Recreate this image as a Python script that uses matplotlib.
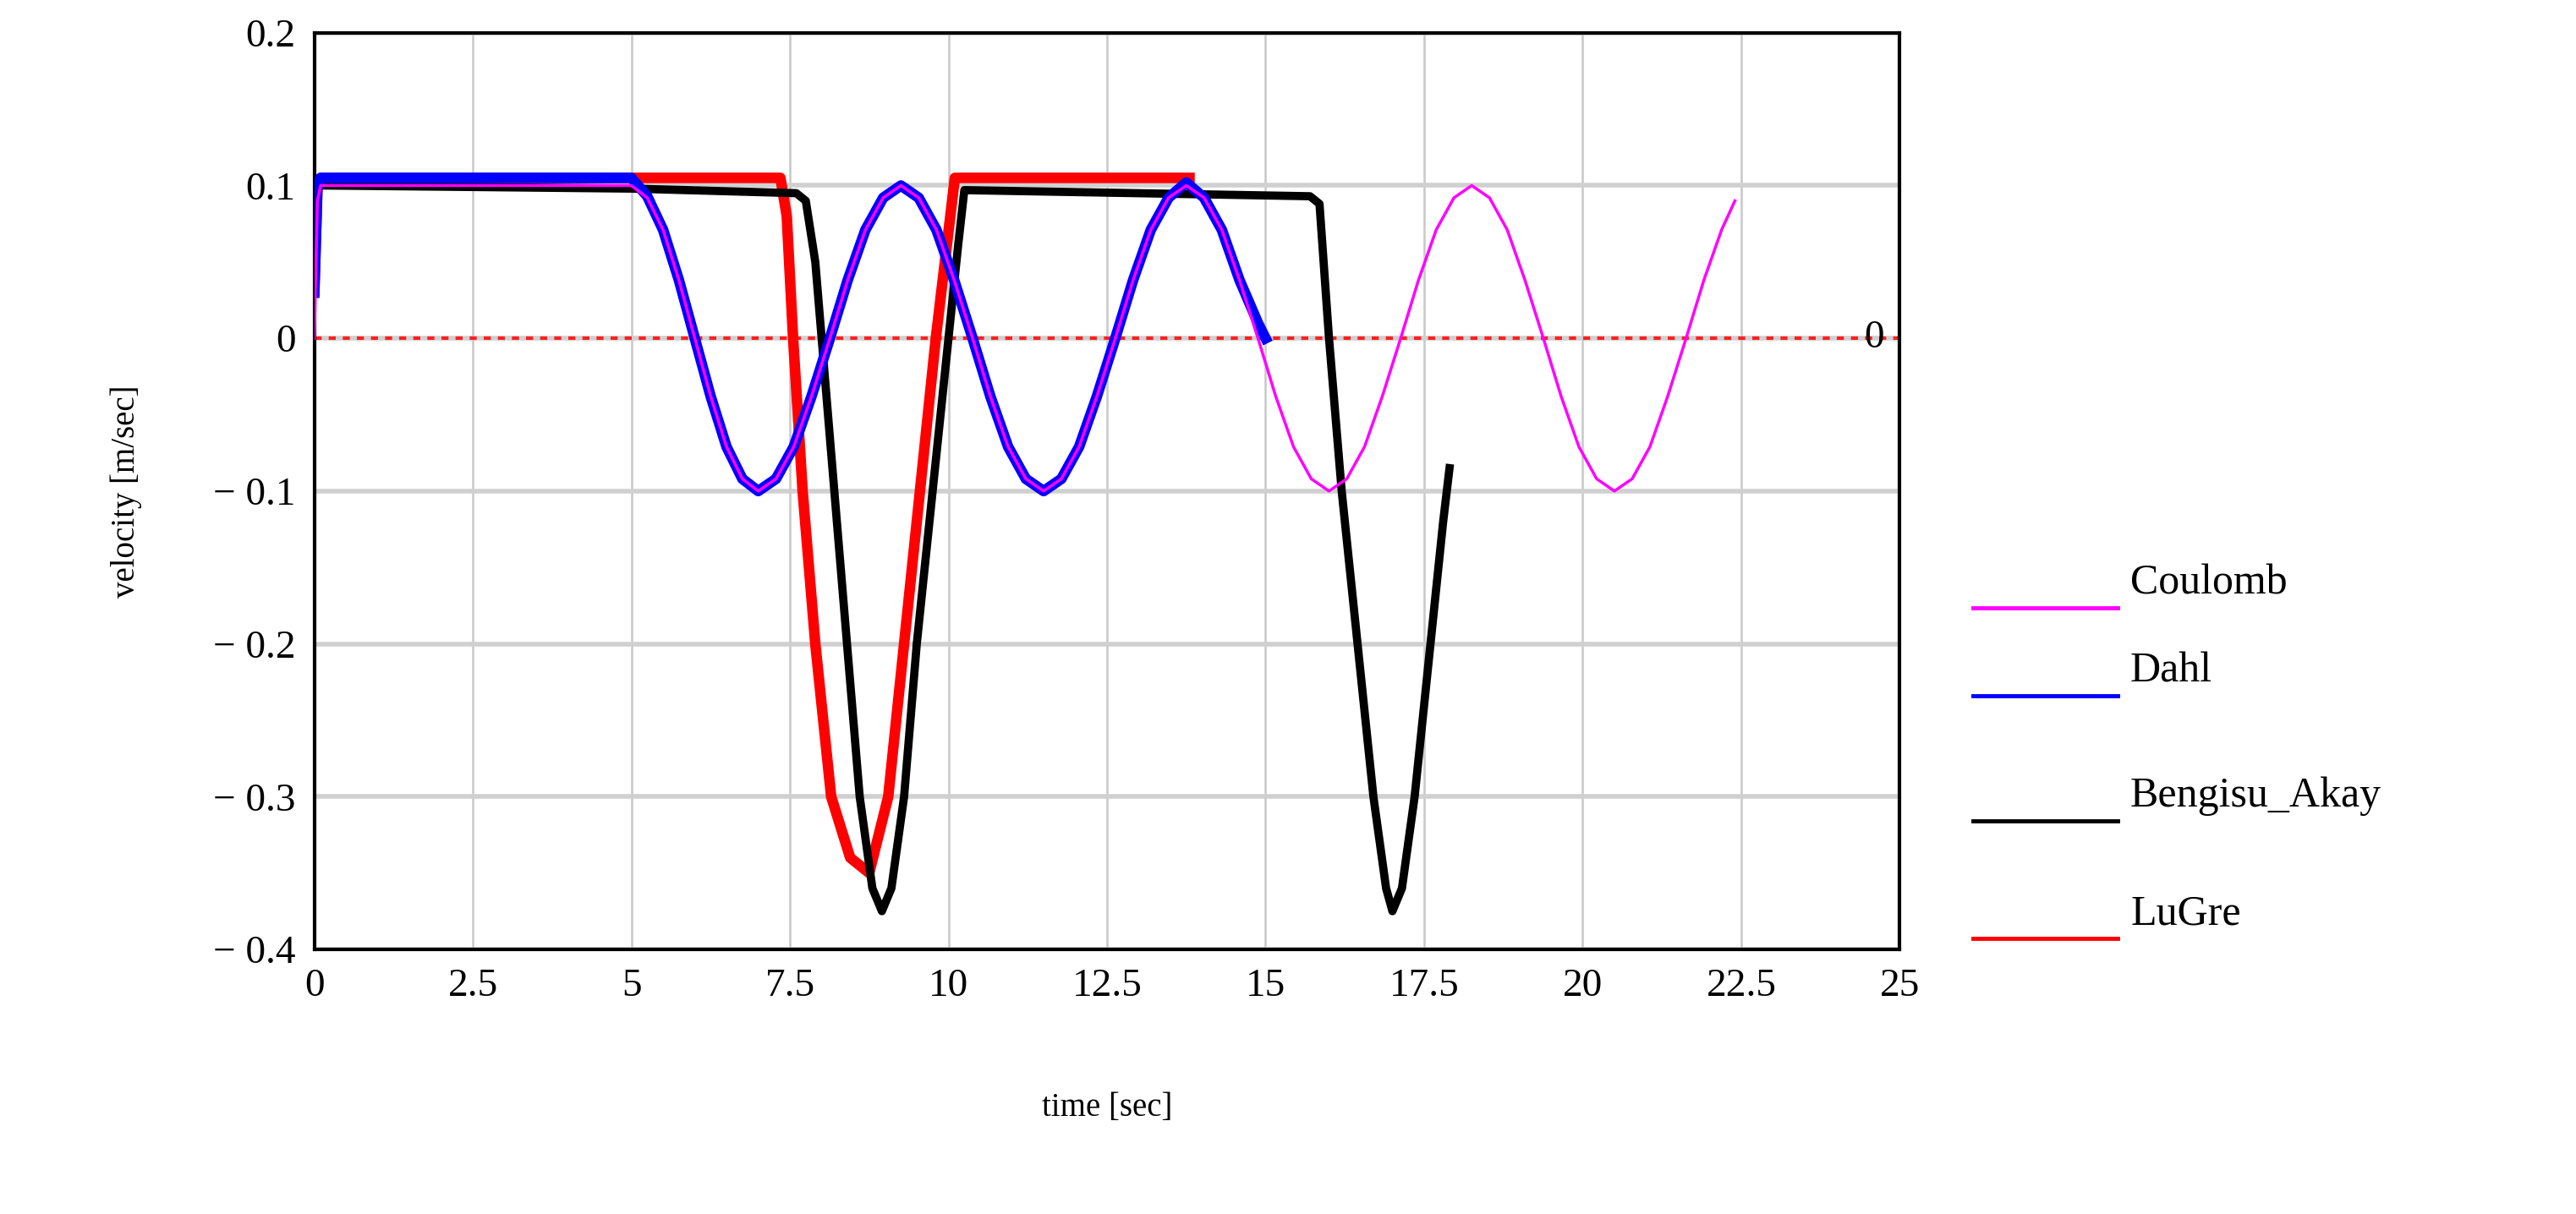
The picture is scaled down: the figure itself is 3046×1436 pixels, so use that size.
import matplotlib
matplotlib.use("Agg")
import matplotlib.pyplot as plt

# Coulomb
coul_t = [0, 0.05, 0.1, 5.0, 5.25, 5.5, 5.75, 6.0, 6.25, 6.5, 6.75, 7.0,
          7.28, 7.56, 7.84, 8.13, 8.41, 8.69, 8.97, 9.25,
          9.53, 9.81, 10.09, 10.38, 10.66, 10.94, 11.22, 11.5,
          11.78, 12.06, 12.34, 12.63, 12.91, 13.19, 13.47, 13.75,
          14.03, 14.31, 14.59, 14.88, 15.16, 15.44, 15.72, 16.0,
          16.28, 16.56, 16.84, 17.13, 17.41, 17.69, 17.97, 18.25,
          18.53, 18.81, 19.09, 19.38, 19.66, 19.94, 20.22, 20.5,
          20.78, 21.06, 21.34, 21.63, 21.91, 22.19, 22.4]
coul_v = [0.0, 0.09, 0.1, 0.1, 0.092, 0.071, 0.038, 0.0, -0.038, -0.071, -0.092, -0.1,
          -0.092, -0.071, -0.038, 0.0, 0.038, 0.071, 0.092, 0.1,
          0.092, 0.071, 0.038, 0.0, -0.038, -0.071, -0.092, -0.1,
          -0.092, -0.071, -0.038, 0.0, 0.038, 0.071, 0.092, 0.1,
          0.092, 0.071, 0.038, 0.0, -0.038, -0.071, -0.092, -0.1,
          -0.092, -0.071, -0.038, 0.0, 0.038, 0.071, 0.092, 0.1,
          0.092, 0.071, 0.038, 0.0, -0.038, -0.071, -0.092, -0.1,
          -0.092, -0.071, -0.038, 0.0, 0.038, 0.071, 0.09]
# Dahl
dahl_t = [0, 0.05, 0.1, 5.0, 5.25, 5.5, 5.75, 6.0, 6.25, 6.5, 6.75, 7.0,
          7.28, 7.56, 7.84, 8.13, 8.41, 8.69, 8.97, 9.25,
          9.53, 9.81, 10.09, 10.38, 10.66, 10.94, 11.22, 11.5,
          11.78, 12.06, 12.34, 12.63, 12.91, 13.19, 13.47, 13.75,
          14.03, 14.31, 14.59, 14.88, 15.0]
dahl_v = [0.03, 0.1, 0.105, 0.105, 0.093, 0.071, 0.038, 0.0, -0.038, -0.071, -0.092, -0.1,
          -0.092, -0.071, -0.038, 0.0, 0.038, 0.071, 0.092, 0.1,
          0.092, 0.071, 0.038, 0.0, -0.038, -0.071, -0.092, -0.1,
          -0.092, -0.071, -0.038, 0.0, 0.038, 0.071, 0.092, 0.102,
          0.092, 0.071, 0.038, 0.01, 0.0]
# Bengisu_Akay
beng_t = [0, 0.05, 0.2, 5.0, 7.6, 7.75, 7.9, 8.0, 8.2, 8.4, 8.6, 8.8, 8.95, 9.1, 9.3, 9.5, 9.75, 10.0, 10.15, 10.25,
          15.7, 15.85, 16.0, 16.2, 16.45, 16.7, 16.9, 17.0, 17.15, 17.35, 17.6, 17.8, 17.9]
beng_v = [0.03, 0.1, 0.1, 0.098, 0.095, 0.09, 0.05, 0.0, -0.1, -0.2, -0.3, -0.36, -0.375, -0.36, -0.3, -0.2, -0.1, 0.0, 0.06, 0.097,
          0.093, 0.088, 0.0, -0.1, -0.2, -0.3, -0.36, -0.375, -0.36, -0.3, -0.2, -0.12, -0.085]
# LuGre
lug_t = [0, 0.05, 0.1, 7.35, 7.45, 7.55, 7.7, 7.9, 8.15, 8.45, 8.75, 9.05, 9.3, 9.55, 9.8, 10.0, 10.1, 13.8]
lug_v = [0.03, 0.1, 0.105, 0.105, 0.08, 0.0, -0.1, -0.2, -0.3, -0.34, -0.35, -0.3, -0.2, -0.1, 0.0, 0.07, 0.105, 0.105]

xticks = [0, 2.5, 5, 7.5, 10, 12.5, 15, 17.5, 20, 22.5, 25]
yticks = [0.2, 0.1, 0, -0.1, -0.2, -0.3, -0.4]
names = ["Coulomb", "Dahl", "Bengisu_Akay", "LuGre"]

serif = ["Liberation Serif", "DejaVu Serif"]
fig = plt.figure(figsize=(30.46, 14.36), dpi=100)
ax = fig.add_axes([0.122, 0.218, 0.6155, 0.755])
ax.set_xlim(0, 25)
ax.set_ylim(-0.4, 0.2)
for x in xticks:
    ax.axvline(x, color="#c8c8c8", lw=1.8, zorder=0)
for y in yticks:
    ax.axhline(y, color="#d0d0d0", lw=4, zorder=0)
ax.axhline(0, color="#ff2020", lw=3, ls=(0, (2, 2)), zorder=1)
ax.text(24.6, 0, "0", fontsize=34, family=serif, va="center", ha="center")

ax.plot(lug_t, lug_v, color="#ff0000", lw=9, zorder=2)
ax.plot(beng_t, beng_v, color="#000000", lw=7, zorder=3)
ax.plot(dahl_t, dahl_v, color="#0000ff", lw=9, zorder=4)
ax.plot(coul_t, coul_v, color="#ff00ff", lw=2.5, zorder=5)

ax.set_xticks(xticks)
ax.set_xticklabels([f"{v:g}" for v in xticks], fontsize=34, family=serif)
ax.set_yticks(yticks)
ax.set_yticklabels([("\u2212 " + f"{-v:g}") if v < 0 else f"{v:g}" for v in yticks], fontsize=34, family=serif)
ax.tick_params(length=0, pad=16)
for s in ax.spines.values():
    s.set_linewidth(3)
ax.set_xlabel("time [sec]", fontsize=28, family=serif, labelpad=75)
ax.set_ylabel("velocity [m/sec]", fontsize=28, family=serif, labelpad=60)

colors = ["#ff00ff", "#0000ff", "#000000", "#ff0000"]
ys = [0.499, 0.427, 0.324, 0.227]
for n, c, y in zip(names, colors, ys):
    fig.add_artist(plt.Line2D([0.766, 0.822], [y, y], color=c, lw=3.5, transform=fig.transFigure))
    fig.text(0.827, y + 0.004, n, fontsize=36, family=serif, va="bottom", ha="left")

fig.savefig("out.png", dpi=100)
